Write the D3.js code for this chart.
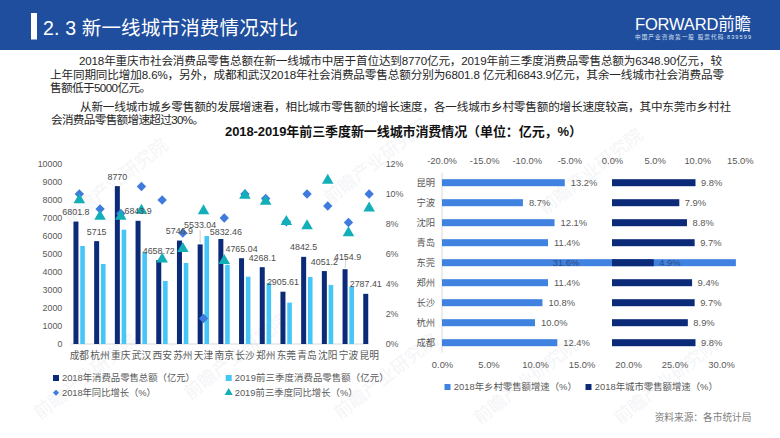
<!DOCTYPE html>
<html>
<head>
<meta charset="utf-8">
<script src="https://cdn.jsdelivr.net/npm/d3@7/dist/d3.min.js"></script>
<style>
  html, body { margin: 0; padding: 0; background: #fff; }
  svg { display: block; font-family: "Liberation Sans", "Noto Sans CJK SC", sans-serif; }
</style>
</head>
<body>
<svg id="chart" width="780" height="438"></svg>
<script>
// Left chart data
const cities = ['成都', '杭州', '重庆', '武汉', '西安', '苏州', '天津', '南京', '长沙', '郑州', '东莞', '青岛', '沈阳', '宁波', '昆明'];
const retail2018 = [6801.8, 5715, 8770, 6843.9, 4658.72, 5746.9, 5533.04, 5832.46, 4765.04, 4268.1, 2905.61, 4842.5, 4051.2, 4154.9, 2787.41];
const retail2019 = [5444, 4444, 6348.9, 5100, 3500, 4500, 6000, 4400, 3740, 3380, 2300, 3720, 3280, 3170, null];
const growth2018 = [10, 9, 8.7, 10.5, 9.6, 7.4, 1.7, 8.4, 10, 9.7, 8.15, 10, 9.2, 8.1, 10];
const growth2019 = [9.6, 8.5, 8.5, 8.9, 5.65, 6.35, 8.87, 5.55, 9.9, 9.5, 8.15, 7.87, 10.9, 7.4, 9.05];

// Right chart data
const rowCities = ['昆明', '宁波', '沈阳', '青岛', '东莞', '郑州', '长沙', '杭州', '成都'];
const ruralGrowth = [13.2, 8.7, 12.1, 11.4, 31.6, 11.4, 10.8, 10.0, 12.4];
const urbanGrowth = [9.8, 7.9, 8.8, 9.7, 4.9, 9.4, 9.7, 8.9, 9.8];

// Hand-placed labels in the original (dx, dy from default spot)
const labelNudge = { '天津': [0, -9.5], '南京': [5, 2], '宁波': [2.5, -3] };

const GRAY = '#595959';
const DARK = '#0b2a78';
const LIGHT = '#45c6f7';
const DIAMOND = '#3f7bdc';
const TRIANGLE = '#13afb8';
const RURAL = '#3f82e0';

const svg = d3.select('#chart');

// Faint watermarks, under everything
const marks = [[70, 225], [330, 205], [545, 215], [40, 420], [190, 400], [340, 420], [480, 425], [620, 425]];
svg.append('g').selectAll('text').data(marks).join('text')
  .attr('transform', (d) => `translate(${d[0]},${d[1]}) rotate(-38)`)
  .attr('font-size', 18)
  .attr('fill', '#f4f5f7')
  .text('前瞻产业研究院');

// Header
svg.append('rect').attr('width', 780).attr('height', 50).attr('fill', '#1f4e9e');
svg.append('rect').attr('x', 31).attr('y', 13).attr('width', 6).attr('height', 26.5).attr('fill', '#fff');
svg.append('text').attr('x', 43).attr('y', 35).attr('fill', '#fff').attr('font-size', 19.5)
  .attr('textLength', 255).text('2. 3  新一线城市消费情况对比');
svg.append('text').attr('x', 635).attr('y', 30).attr('fill', '#fff').attr('font-size', 16.5)
  .attr('textLength', 116).text('FORWARD前瞻');
svg.append('text').attr('x', 635).attr('y', 39).attr('fill', '#dfe7f4').attr('font-size', 5.6)
  .attr('textLength', 116).text('中国产业咨询第一股 股票代码:839599');

// Body copy, one line per row as in the original
const bodyLines = [
  [79, 65, 643, '2018年重庆市社会消费品零售总额在新一线城市中居于首位达到8770亿元，2019年前三季度消费品零售总额为6348.90亿元，较'],
  [50, 78.5, 674, '上年同期同比增加8.6%，另外，成都和武汉2018年社会消费品零售总额分别为6801.8 亿元和6843.9亿元，其余一线城市社会消费品零'],
  [50, 92, 101, '售额低于5000亿元。'],
  [80, 110.5, 651, '从新一线城市城乡零售额的发展增速看，相比城市零售额的增长速度，各一线城市乡村零售额的增长速度较高，其中东莞市乡村社'],
  [51, 124, 153, '会消费品零售额增速超过30%。']
];
svg.append('g').selectAll('text').data(bodyLines).join('text')
  .attr('x', (d) => d[0]).attr('y', (d) => d[1])
  .attr('textLength', (d) => d[2])
  .attr('font-size', 11.6)
  .attr('fill', '#262626')
  .text((d) => d[3]);

svg.append('text').attr('x', 225).attr('y', 136).attr('font-size', 13).attr('font-weight', 700)
  .attr('fill', '#111').attr('textLength', 357)
  .text('2018-2019年前三季度新一线城市消费情况（单位：亿元，%）');

// ---- Left chart ----
const x0 = d3.scaleBand().domain(cities).range([69, 379.5]);
const xInner = d3.scalePoint().domain(['y2018', 'y2019']).range([-3.4, 3.4]);
const yLeft = d3.scaleLinear().domain([0, 10000]).range([344, 164]);
const yRight = d3.scaleLinear().domain([0, 12]).range([344, 164]);
const cx = (c) => x0(c) + x0.bandwidth() / 2;

// d3 axes set their own font attributes on the group, so clear those too
function styleAxis(g, size) {
  g.attr('font-family', null).attr('font-size', size);
  g.select('.domain').remove();
  g.selectAll('.tick line').remove();
  g.selectAll('text').attr('fill', GRAY);
  return g;
}

svg.append('g').attr('transform', 'translate(68,0)')
  .call(d3.axisLeft(yLeft).tickValues(d3.range(0, 10001, 1000)).tickFormat(d3.format('d')).tickSize(0).tickPadding(5.7))
  .call(styleAxis, 8.9);
svg.append('g').attr('transform', 'translate(380,0)')
  .call(d3.axisRight(yRight).tickValues(d3.range(0, 13, 2)).tickFormat((d) => d + '%').tickSize(0).tickPadding(5.7))
  .call(styleAxis, 8.9);
svg.append('g').attr('transform', 'translate(0,344)')
  .call(d3.axisBottom(x0).tickSize(0).tickPadding(8))
  .call(styleAxis, 9.7);
svg.append('line').attr('x1', 71).attr('x2', 369).attr('y1', 344).attr('y2', 344).attr('stroke', '#d9d9d9');

const barW = 5;
svg.append('g').selectAll('rect').data(cities).join('rect')
  .attr('x', (c) => cx(c) + xInner('y2018') - barW / 2)
  .attr('width', barW)
  .attr('y', (c, i) => yLeft(retail2018[i]))
  .attr('height', (c, i) => yLeft(0) - yLeft(retail2018[i]))
  .attr('fill', DARK);
svg.append('g').selectAll('rect').data(cities.filter((c, i) => retail2019[i] != null)).join('rect')
  .attr('x', (c) => cx(c) + xInner('y2019') - barW / 2)
  .attr('width', barW - 0.4)
  .attr('y', (c, i) => yLeft(retail2019[i]))
  .attr('height', (c, i) => yLeft(0) - yLeft(retail2019[i]))
  .attr('fill', LIGHT);

// Leader lines for the two labels pulled off their bars
svg.append('g').selectAll('line').data(['天津', '宁波']).join('line')
  .attr('x1', (c) => cx(c) + xInner('y2018') + labelNudge[c][0] / 2)
  .attr('x2', (c) => cx(c) + xInner('y2018'))
  .attr('y1', (c) => yLeft(retail2018[cities.indexOf(c)]) - 14)
  .attr('y2', (c) => yLeft(retail2018[cities.indexOf(c)]) - 1)
  .attr('stroke', '#bfbfbf').attr('stroke-width', 0.7);

svg.append('g').selectAll('path').data(cities).join('path')
  .attr('d', d3.symbol().type(d3.symbolSquare).size(44))
  .attr('transform', (c, i) => `translate(${cx(c)},${yRight(growth2018[i])}) rotate(45)`)
  .attr('fill', DIAMOND);
svg.append('g').selectAll('path').data(cities).join('path')
  .attr('d', d3.symbol().type(d3.symbolTriangle).size(58))
  .attr('transform', (c, i) => `translate(${cx(c)},${yRight(growth2019[i])})`)
  .attr('fill', TRIANGLE);

svg.append('g').selectAll('text').data(cities).join('text')
  .attr('x', (c) => cx(c) + xInner('y2018') + (labelNudge[c] ? labelNudge[c][0] : 0))
  .attr('y', (c, i) => yLeft(retail2018[i]) - 6.5 + (labelNudge[c] ? labelNudge[c][1] : 0))
  .attr('text-anchor', 'middle')
  .attr('font-size', 8.9)
  .attr('fill', '#4d4d4d')
  .text((c, i) => String(retail2018[i]));

// Left legend
const legendLeft = [
  { x: 53, y: 378, color: DARK, shape: 'rect', len: 133, label: '2018年消费品零售总额（亿元）' },
  { x: 225.7, y: 378, color: LIGHT, shape: 'rect', len: 154, label: '2019前三季度消费品零售额（亿元）' },
  { x: 53, y: 392.7, color: DIAMOND, shape: 'diamond', len: 94, label: '2018年同比增长（%）' },
  { x: 225.7, y: 392.7, color: TRIANGLE, shape: 'triangle', len: 123, label: '2019前三季度同比增长（%）' }
];
const lg = svg.append('g').selectAll('g').data(legendLeft).join('g')
  .attr('transform', (d) => `translate(${d.x},${d.y})`);
lg.filter((d) => d.shape === 'rect').append('rect')
  .attr('y', -3).attr('width', 6).attr('height', 6).attr('fill', (d) => d.color);
lg.filter((d) => d.shape === 'diamond').append('path')
  .attr('d', d3.symbol().type(d3.symbolSquare).size(18))
  .attr('transform', 'translate(3,0) rotate(45)').attr('fill', (d) => d.color);
lg.filter((d) => d.shape === 'triangle').append('path')
  .attr('d', d3.symbol().type(d3.symbolTriangle).size(28))
  .attr('transform', 'translate(3,0)').attr('fill', (d) => d.color);
lg.append('text').attr('x', 9).attr('dy', '0.36em')
  .attr('font-size', 9.4).attr('fill', GRAY)
  .attr('textLength', (d) => d.len)
  .text((d) => d.label);

// ---- Right chart ----
const xTop = d3.scaleLinear().domain([-20, 15]).range([441.6, 739.8]);
const xBottom = d3.scaleLinear().domain([0, 30]).range([442, 721]);
const yRows = d3.scaleBand().domain(rowCities).range([172.7, 352.7]);
const barH = 7;

const pct1 = (d) => d.toFixed(1) + '%';
svg.append('g').attr('transform', 'translate(0,164)')
  .call(d3.axisTop(xTop).tickValues(d3.range(-20, 16, 5)).tickFormat(pct1).tickSize(0).tickPadding(0))
  .call(styleAxis, 9.4);
svg.append('g').attr('transform', 'translate(0,361.5)')
  .call(d3.axisBottom(xBottom).tickValues(d3.range(0, 31, 5)).tickFormat(pct1).tickSize(0).tickPadding(0))
  .call(styleAxis, 9.4);
svg.append('g').attr('transform', 'translate(442,0)')
  .call(d3.axisLeft(yRows).tickSize(0).tickPadding(7))
  .call(styleAxis, 9.3);
svg.append('line').attr('x1', 442).attr('x2', 442).attr('y1', 172.7).attr('y2', 352.7).attr('stroke', '#d9d9d9');

svg.append('g').selectAll('rect').data(rowCities).join('rect')
  .attr('x', xBottom(0))
  .attr('y', (c) => yRows(c) + yRows.bandwidth() / 2 - barH / 2)
  .attr('width', (c, i) => xBottom(ruralGrowth[i]) - xBottom(0))
  .attr('height', barH)
  .attr('fill', RURAL);
svg.append('g').selectAll('rect').data(rowCities).join('rect')
  .attr('x', xTop(0))
  .attr('y', (c) => yRows(c) + yRows.bandwidth() / 2 - barH / 2)
  .attr('width', (c, i) => xTop(urbanGrowth[i]) - xTop(0))
  .attr('height', barH)
  .attr('fill', DARK);

// 31.6% sits mid-bar in the original, the rest follow their bar ends
svg.append('g').selectAll('text').data(rowCities).join('text')
  .attr('x', (c, i) => (c === '东莞' ? 552.7 : xBottom(ruralGrowth[i]) + 6))
  .attr('y', (c) => yRows(c) + yRows.bandwidth() / 2)
  .attr('dy', '0.36em')
  .attr('font-size', 9.4)
  .attr('fill', (c) => (c === '东莞' ? '#2f4a80' : GRAY))
  .text((c, i) => pct1(ruralGrowth[i]));
svg.append('g').selectAll('text').data(rowCities).join('text')
  .attr('x', (c, i) => xTop(urbanGrowth[i]) + 5.5)
  .attr('y', (c) => yRows(c) + yRows.bandwidth() / 2)
  .attr('dy', '0.36em')
  .attr('font-size', 9.4)
  .attr('fill', (c) => (c === '东莞' ? '#2f4a80' : GRAY))
  .text((c, i) => pct1(urbanGrowth[i]));

const legendRight = [
  { x: 444.5, color: RURAL, len: 123, label: '2018年乡村零售额增速（%）' },
  { x: 585.5, color: DARK, len: 123, label: '2018年城市零售额增速（%）' }
];
const lr = svg.append('g').selectAll('g').data(legendRight).join('g')
  .attr('transform', (d) => `translate(${d.x},387)`);
lr.append('rect').attr('y', -3).attr('width', 6).attr('height', 6).attr('fill', (d) => d.color);
lr.append('text').attr('x', 9.3).attr('dy', '0.36em').attr('font-size', 9.4).attr('fill', GRAY)
  .attr('textLength', (d) => d.len).text((d) => d.label);

svg.append('text').attr('x', 751.5).attr('y', 420.5).attr('text-anchor', 'end')
  .attr('font-size', 9.7).attr('fill', '#7f7f7f').text('资料来源：各市统计局');
</script>
</body>
</html>
